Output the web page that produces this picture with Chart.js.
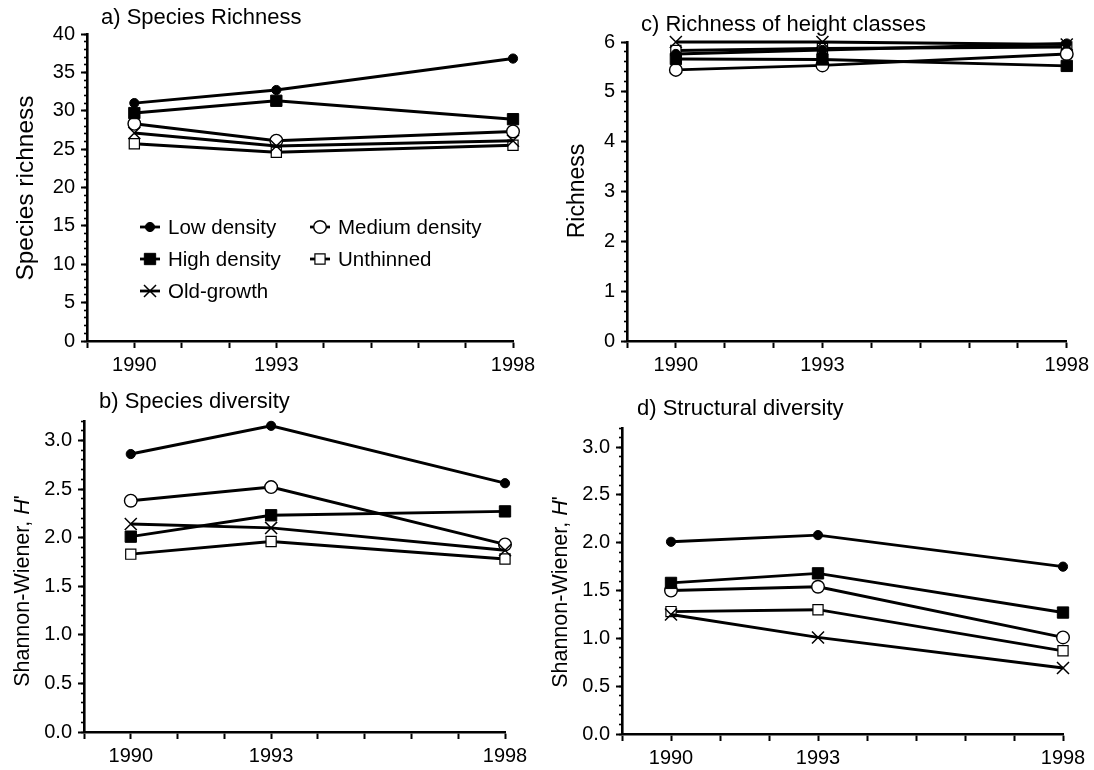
<!DOCTYPE html>
<html>
<head>
<meta charset="utf-8">
<script src="https://cdn.jsdelivr.net/npm/chart.js@4.4.0/dist/chart.umd.min.js"></script>
<style>
html,body{margin:0;padding:0;background:#fff;width:1094px;height:770px;overflow:hidden}
canvas{position:absolute}
</style>
</head>
<body>
<canvas id="pa"></canvas>
<canvas id="pb"></canvas>
<canvas id="pc"></canvas>
<canvas id="pd"></canvas>
<script>
// ---------- data ----------
const years = [1990, 1993, 1998];
const yearTickLabels = [1990, 1993, 1998];
const seriesNames = ['Low density', 'High density', 'Old-growth', 'Medium density', 'Unthinned'];

// a) Species richness
const richLow       = [31.0, 32.7, 36.8];
const richHigh      = [29.7, 31.3, 28.9];
const richOld       = [27.1, 25.4, 26.1];
const richMedium    = [28.3, 26.1, 27.3];
const richUnthinned = [25.7, 24.6, 25.5];

// b) Species diversity (Shannon-Wiener H')
const divLow       = [2.86, 3.15, 2.56];
const divHigh      = [2.01, 2.23, 2.27];
const divOld       = [2.14, 2.10, 1.87];
const divMedium    = [2.38, 2.52, 1.93];
const divUnthinned = [1.83, 1.96, 1.78];

// c) Richness of height classes
const hcLow       = [5.76, 5.84, 5.97];
const hcHigh      = [5.66, 5.65, 5.52];
const hcOld       = [6.00, 6.00, 5.95];
const hcMedium    = [5.44, 5.53, 5.76];
const hcUnthinned = [5.83, 5.87, 5.90];

// d) Structural diversity (Shannon-Wiener H')
const sdLow       = [2.01, 2.08, 1.75];
const sdHigh      = [1.58, 1.68, 1.27];
const sdOld       = [1.25, 1.01, 0.69];
const sdMedium    = [1.50, 1.54, 1.01];
const sdUnthinned = [1.28, 1.30, 0.87];

// ---------- styles ----------
const FONT = '"Liberation Sans", Arial, Helvetica, sans-serif';
const seriesStyle = {
  'Low density':    {pointStyle: 'circle',   radius: 4.6, fill: '#000', bw: 1},
  'High density':   {pointStyle: 'rect',     radius: 8.0, fill: '#000', bw: 1},
  'Old-growth':     {pointStyle: 'crossRot', radius: 8.5, fill: '#fff', bw: 1.5},
  'Medium density': {pointStyle: 'circle',   radius: 6.3, fill: '#fff', bw: 1.4},
  'Unthinned':      {pointStyle: 'rect',     radius: 7.2, fill: '#fff', bw: 1.2}
};

function drawMarker(ctx, st, x, y) {
  ctx.save();
  ctx.lineWidth = st.bw;
  ctx.strokeStyle = '#000';
  ctx.fillStyle = st.fill;
  ctx.beginPath();
  if (st.pointStyle === 'circle') {
    ctx.arc(x, y, st.radius, 0, Math.PI * 2);
    ctx.fill(); ctx.stroke();
  } else if (st.pointStyle === 'rect') {
    const s = Math.SQRT1_2 * st.radius;
    ctx.rect(x - s, y - s, 2 * s, 2 * s);
    ctx.fill(); ctx.stroke();
  } else {
    const s = Math.SQRT1_2 * st.radius;
    ctx.moveTo(x - s, y - s); ctx.lineTo(x + s, y + s);
    ctx.moveTo(x - s, y + s); ctx.lineTo(x + s, y - s);
    ctx.stroke();
  }
  ctx.restore();
}

function decoPlugin(cfg) {
  return {
    id: 'deco',
    afterDraw(chart) {
      const ctx = chart.ctx;
      ctx.save();
      ctx.fillStyle = '#000';
      // panel title
      ctx.font = '22px ' + FONT;
      ctx.textAlign = 'left';
      ctx.textBaseline = 'alphabetic';
      ctx.fillText(cfg.title, cfg.titleX, cfg.titleY);
      // y axis title (rotated), with optional italic part
      ctx.translate(cfg.yTitleX, cfg.yTitleY);
      ctx.rotate(-Math.PI / 2);
      ctx.textBaseline = 'middle';
      const fs = cfg.yTitleSize + 'px ';
      let total = 0;
      cfg.yTitle.forEach(p => { ctx.font = (p.italic ? 'italic ' : '') + fs + FONT; total += ctx.measureText(p.t).width; });
      let x = -total / 2;
      cfg.yTitle.forEach(p => {
        ctx.font = (p.italic ? 'italic ' : '') + fs + FONT;
        ctx.fillText(p.t, x, 0);
        x += ctx.measureText(p.t).width;
      });
      ctx.restore();
      // legend
      if (cfg.legend) {
        ctx.save();
        ctx.font = '20.5px ' + FONT;
        ctx.textBaseline = 'middle';
        ctx.fillStyle = '#000';
        cfg.legend.forEach(e => {
          const st = seriesStyle[e.name];
          ctx.strokeStyle = '#000';
          ctx.lineWidth = 2.8;
          ctx.beginPath();
          ctx.moveTo(e.x, e.y); ctx.lineTo(e.x + 20, e.y);
          ctx.stroke();
          drawMarker(ctx, st, e.x + 10, e.y);
          ctx.fillText(e.name, e.x + 28, e.y + 1);
        });
        ctx.restore();
      }
    }
  };
}

function makePanel(cfg) {
  const canvas = document.getElementById(cfg.id);
  canvas.width = cfg.w; canvas.height = cfg.h;
  canvas.style.left = cfg.left + 'px'; canvas.style.top = cfg.top + 'px';
  canvas.style.width = cfg.w + 'px'; canvas.style.height = cfg.h + 'px';
  const datasets = seriesNames.map(name => {
    const st = seriesStyle[name];
    return {
      label: name,
      data: years.map((yr, i) => ({x: yr, y: cfg.values[name][i]})),
      xAxisID: 'x', yAxisID: 'y',
      borderColor: '#000', borderWidth: 2.9, backgroundColor: st.fill,
      pointStyle: st.pointStyle, pointRadius: st.radius, pointHoverRadius: st.radius,
      pointBackgroundColor: st.fill, pointBorderColor: '#000', pointBorderWidth: st.bw,
      tension: 0, fill: false, clip: false
    };
  });
  const tickFont = {family: FONT, size: 20};
  new Chart(canvas, {
    type: 'line',
    data: {datasets},
    options: {
      responsive: false, animation: false, devicePixelRatio: 1,
      events: [],
      layout: {padding: {left: 0, top: cfg.padTop, right: cfg.padRight, bottom: 0}},
      plugins: {legend: {display: false}, tooltip: {enabled: false}, title: {display: false}},
      scales: {
        x: {
          type: 'linear', position: 'bottom', min: 1989, max: 1998,
          afterFit: s => { s.height = cfg.xAxisH; },
          ticks: {stepSize: 1, autoSkip: false, maxRotation: 0, minRotation: 0, padding: 5,
                  color: '#000', font: tickFont,
                  callback: v => yearTickLabels.includes(v) ? String(v) : ''},
          grid: {drawOnChartArea: false, drawTicks: true, tickLength: 7, tickWidth: 2, tickColor: '#000'},
          border: {display: true, color: '#000', width: 2.6}
        },
        y: {
          type: 'linear', position: 'left', min: 0, max: cfg.yMax, weight: 1,
          afterFit: s => { s.width = cfg.yAxisW; },
          ticks: {stepSize: cfg.majorStep, includeBounds: false, padding: 6, color: '#000', font: tickFont,
                  callback: v => v.toFixed(cfg.decimals)},
          grid: {drawOnChartArea: false, drawTicks: true, tickLength: 6, tickWidth: 2, tickColor: '#000'},
          border: {display: true, color: '#000', width: 2.6}
        },
        yMinor: {
          type: 'linear', position: 'left', min: 0, max: cfg.yMax, weight: 0, display: true,
          afterFit: s => { s.width = 0; },
          ticks: {display: false, stepSize: cfg.minorStep, maxTicksLimit: 100},
          grid: {drawOnChartArea: false, drawTicks: true, tickLength: 3, tickWidth: 1.6, tickColor: '#000'},
          border: {display: false}
        }
      }
    },
    plugins: [decoPlugin(cfg)]
  });
}

makePanel({
  id: 'pa', left: 0, top: 0, w: 547, h: 385,
  padTop: 34, padRight: 34, yAxisW: 87, xAxisH: 44,
  yMax: 40, majorStep: 5, minorStep: 1, decimals: 0,
  values: {'Low density': richLow, 'High density': richHigh, 'Old-growth': richOld,
           'Medium density': richMedium, 'Unthinned': richUnthinned},
  title: 'a) Species Richness', titleX: 101, titleY: 23.5,
  yTitle: [{t: 'Species richness'}], yTitleX: 26, yTitleY: 188, yTitleSize: 24.5,
  legend: [
    {name: 'Low density', x: 140, y: 227},
    {name: 'High density', x: 140, y: 259},
    {name: 'Old-growth', x: 140, y: 291},
    {name: 'Medium density', x: 310, y: 227},
    {name: 'Unthinned', x: 310, y: 259}
  ]
});

makePanel({
  id: 'pb', left: 0, top: 385, w: 547, h: 385,
  padTop: 36, padRight: 42, yAxisW: 84, xAxisH: 38,
  yMax: 3.2, majorStep: 0.5, minorStep: 0.1, decimals: 1,
  values: {'Low density': divLow, 'High density': divHigh, 'Old-growth': divOld,
           'Medium density': divMedium, 'Unthinned': divUnthinned},
  title: 'b) Species diversity', titleX: 99, titleY: 23,
  yTitle: [{t: 'Shannon-Wiener, '}, {t: 'H', italic: true}, {t: "'"}], yTitleX: 23, yTitleY: 206, yTitleSize: 21.5
});

makePanel({
  id: 'pc', left: 547, top: 0, w: 547, h: 385,
  padTop: 42, padRight: 27, yAxisW: 80, xAxisH: 44,
  yMax: 6, majorStep: 1, minorStep: 0.2, decimals: 0,
  values: {'Low density': hcLow, 'High density': hcHigh, 'Old-growth': hcOld,
           'Medium density': hcMedium, 'Unthinned': hcUnthinned},
  title: 'c) Richness of height classes', titleX: 94, titleY: 30.5,
  yTitle: [{t: 'Richness'}], yTitleX: 31, yTitleY: 191, yTitleSize: 23
});

makePanel({
  id: 'pd', left: 547, top: 385, w: 547, h: 385,
  padTop: 43, padRight: 31, yAxisW: 75, xAxisH: 36,
  yMax: 3.2, majorStep: 0.5, minorStep: 0.1, decimals: 1,
  values: {'Low density': sdLow, 'High density': sdHigh, 'Old-growth': sdOld,
           'Medium density': sdMedium, 'Unthinned': sdUnthinned},
  title: 'd) Structural diversity', titleX: 90, titleY: 30,
  yTitle: [{t: 'Shannon-Wiener, '}, {t: 'H', italic: true}, {t: "'"}], yTitleX: 14, yTitleY: 207, yTitleSize: 21.5
});
</script>
</body>
</html>
